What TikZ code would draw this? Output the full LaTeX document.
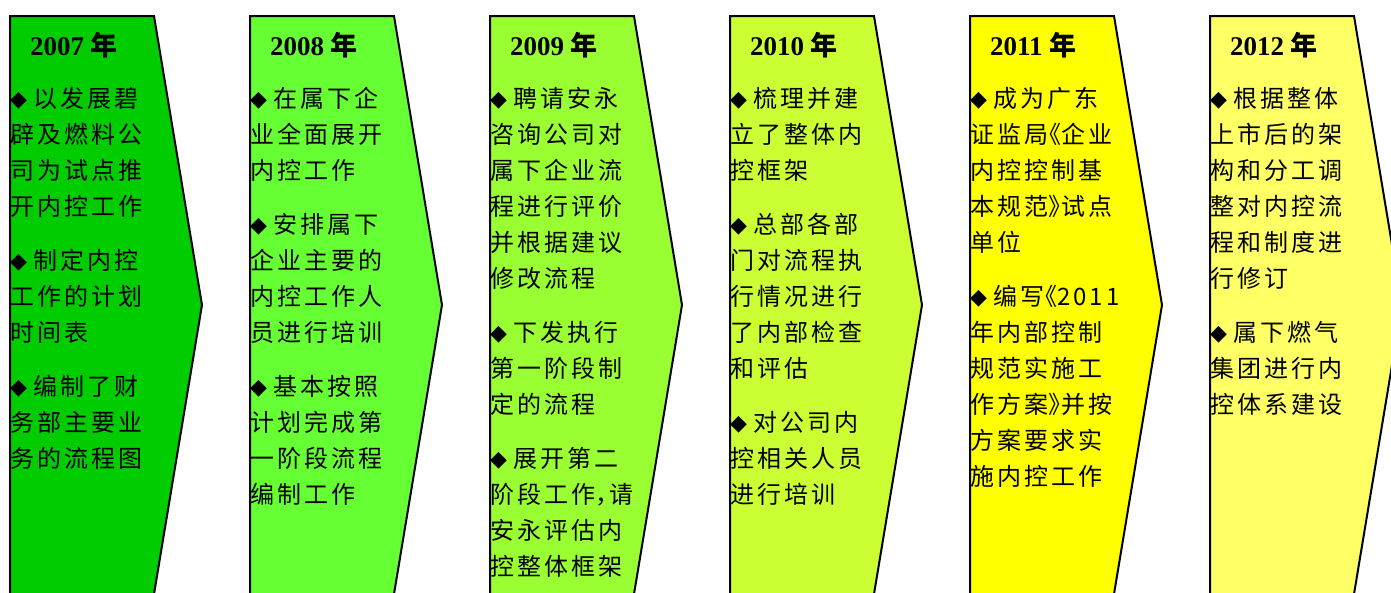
\documentclass[tikz,border=0pt]{standalone}
\usepackage{fontspec}
\setmainfont{Liberation Serif}
\newfontfamily\cjk[LetterSpace=12.5]{Noto Sans CJK SC}
\newfontfamily\cjkyear{Noto Sans CJK SC}
\newfontfamily\dejavu{DejaVu Sans}
\definecolor{cA}{HTML}{00CC00}
\definecolor{cB}{HTML}{66FF33}
\definecolor{cC}{HTML}{99FF33}
\definecolor{cD}{HTML}{CCFF33}
\definecolor{cE}{HTML}{FFFF00}
\definecolor{cF}{HTML}{FFFF66}
\newcommand\bul{\makebox[23pt][l]{\raisebox{0.5pt}{\dejavu\fontsize{22}{22}\selectfont ◆}}}
\newcommand\st{\rule{0pt}{24pt}}
\newcommand\myLQ{\makebox[13pt][r]{《}}
\newcommand\myRQ{\makebox[13pt][l]{》}}
\tikzset{
  chev/.style={draw=black,line width=2pt,line join=miter},
  yearlbl/.style={anchor=base west,inner sep=0pt,font=\fontsize{27}{27}\selectfont\bfseries},
  body/.style={anchor=north west,inner sep=0pt,align=left,font=\cjk\fontsize{24}{36}\selectfont}
}
\newcommand\yr[1]{#1 {\cjkyear\bfseries 年}}
\begin{document}
\begin{tikzpicture}[x=1pt,y=-1pt]
\useasboundingbox (0,0) rectangle (1391,592);
\foreach \i/\c in {0/cA,1/cB,2/cC,3/cD,4/cE,5/cF}{
  \pgfmathsetmacro\xo{10+240*\i}
  \draw[chev,fill=\c] (\xo,16) -- ({\xo+144},16) -- ({\xo+192},305) -- ({\xo+144},594) -- (\xo,594) -- cycle;
}
% years
\node[yearlbl] (y1) at (30,55) {\yr{2007}};
\node[yearlbl] (y2) at (270,55) {\yr{2008}};
\node[yearlbl] (y3) at (510,55) {\yr{2009}};
\node[yearlbl] (y4) at (750,55) {\yr{2010}};
\node[yearlbl] (y5) at (990,55) {\yr{2011}};
\node[yearlbl] (y6) at (1230,55) {\yr{2012}};
% bodies
\node[body] (t1) at (10,83) {\st\bul 以发展碧\\辟及燃料公\\司为试点推\\开内控工作\\[18pt]
\bul 制定内控\\工作的计划\\时间表\\[18pt]
\bul 编制了财\\务部主要业\\务的流程图};
\node[body] (t2) at (250,83) {\st\bul 在属下企\\业全面展开\\内控工作\\[18pt]
\bul 安排属下\\企业主要的\\内控工作人\\员进行培训\\[18pt]
\bul 基本按照\\计划完成第\\一阶段流程\\编制工作};
\node[body] (t3) at (490,83) {\st\bul 聘请安永\\咨询公司对\\属下企业流\\程进行评价\\并根据建议\\修改流程\\[18pt]
\bul 下发执行\\第一阶段制\\定的流程\\[18pt]
\bul 展开第二\\阶段工作\makebox[14pt][l]{，}请\\安永评估内\\控整体框架};
\node[body] (t4) at (730,83) {\st\bul 梳理并建\\立了整体内\\控框架\\[18pt]
\bul 总部各部\\门对流程执\\行情况进行\\了内部检查\\和评估\\[18pt]
\bul 对公司内\\控相关人员\\进行培训};
\node[body] (t5) at (970,83) {\st\bul 成为广东\\证监局\myLQ 企业\\内控控制基\\本规范\myRQ 试点\\单位\\[18pt]
\bul 编写\myLQ 2011\\年内部控制\\规范实施工\\作方案\myRQ 并按\\方案要求实\\施内控工作};
\node[body] (t6) at (1210,83) {\st\bul 根据整体\\上市后的架\\构和分工调\\整对内控流\\程和制度进\\行修订\\[18pt]
\bul 属下燃气\\集团进行内\\控体系建设};
\end{tikzpicture}
\end{document}
